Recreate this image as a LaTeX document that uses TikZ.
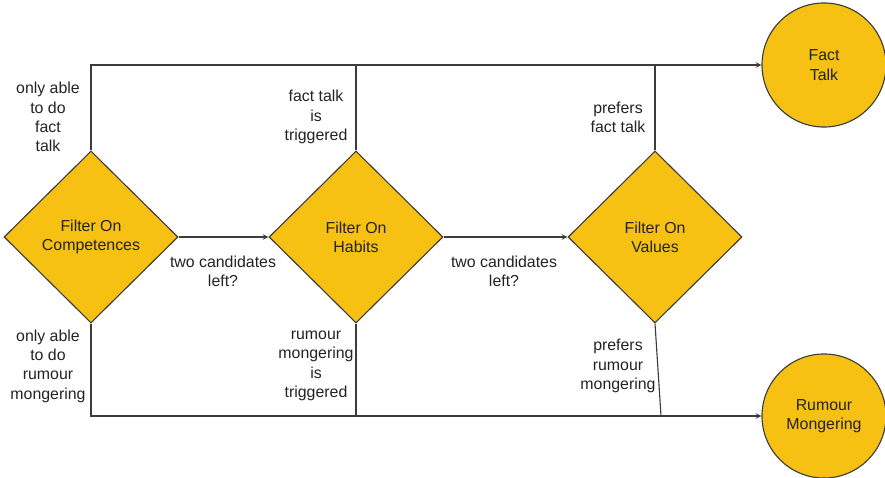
\documentclass[tikz,border=0pt]{standalone}
\usepackage{fontspec}
\setmainfont{Liberation Sans}
\usetikzlibrary{shapes.geometric,positioning}
\definecolor{filteryellow}{RGB}{247,193,20}
\definecolor{edgegray}{RGB}{60,60,60}
\definecolor{textgray}{RGB}{35,35,35}

\begin{document}
\begin{tikzpicture}
[x=0.025cm,y=-0.025cm,>=stealth,
font=\fontsize{11.3}{13.7}\selectfont,text=textgray,
decision/.style = {draw=edgegray, diamond, fill = filteryellow, line width=0.8pt, inner sep = 0pt, minimum width=4.35cm, minimum height=4.3cm, align=center},
outcome/.style = {draw=edgegray, circle, fill = filteryellow, line width=0.8pt, inner sep = 0pt, minimum size=3.1cm, align=center},
lbl/.style = {align=center, inner sep=0pt},
flow/.style = {draw=edgegray, line width=0.8pt},]
\useasboundingbox (0,0) rectangle (885,478);

\node (comp) at (91,237)[decision] {Filter On\\Competences};
\node (habit) at (356,237)[decision] {Filter On\\Habits};
\node (value) at (655,237)[decision] {Filter On\\Values};

\node (fact) at (824,65)[outcome] {Fact\\Talk};
\node (rumour) at (824,416)[outcome] {Rumour\\Mongering};

\coordinate (slant) at (661,416);

\draw[flow,->] (comp)--(habit);
\draw[flow,->] (habit)--(value);

\draw[flow,->] (comp.north) |- (fact);
\draw[flow] (habit.north)--(habit.north |- fact);
\draw[flow] (value.north)--(value.north |- fact);

\draw[flow,->] (comp.south) |- (rumour);
\draw[flow] (habit.south)--(habit.south |- rumour);
\draw[flow] (value.south)--(slant);

\node (onlyfact) at (48,117)[lbl] {only able\\to do\\fact\\talk};
\node (onlyrumour) at (48,366)[lbl] {only able\\to do\\rumour\\mongering};
\node (facttrig) at (316,117)[lbl] {fact talk\\is\\triggered};
\node (rumourtrig) at (316,366)[lbl] {rumour\\mongering\\is\\triggered};
\node (left1) at (223,271)[lbl] {two candidates\\left?};
\node (left2) at (504,271)[lbl] {two candidates\\left?};
\node (preffact) at (618,117)[lbl] {prefers\\fact talk};
\node (prefrumour) at (618,366)[lbl] {prefers\\rumour\\mongering};

\end{tikzpicture}
\end{document}
